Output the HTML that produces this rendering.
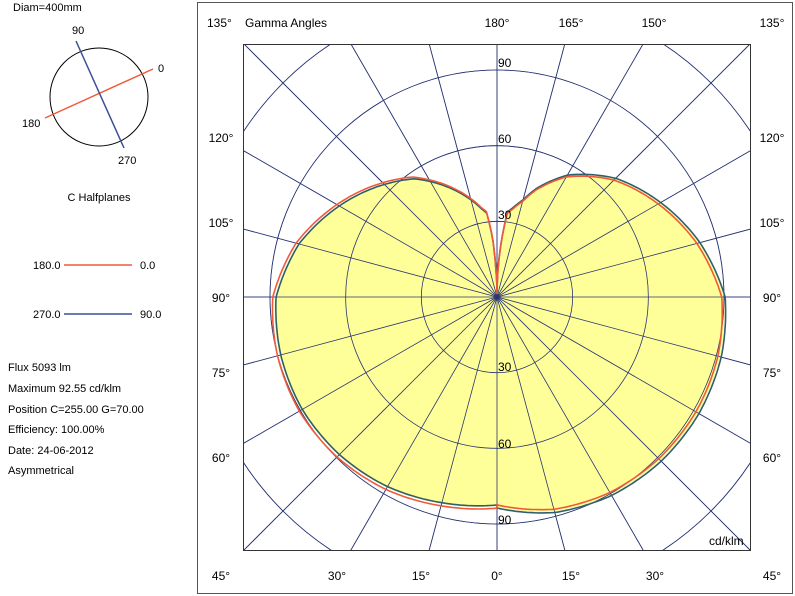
<!DOCTYPE html>
<html><head><meta charset="utf-8"><style>
html,body{margin:0;padding:0;background:#fff;width:795px;height:596px;overflow:hidden;font-family:"Liberation Sans",Arial,sans-serif}
svg{display:block}
svg text{font-family:"Liberation Sans",Arial,sans-serif;font-size:12px;fill:#000}
</style></head><body>
<svg id="s" width="795" height="596" xmlns="http://www.w3.org/2000/svg">
<defs><clipPath id="c"><rect x="243" y="44" width="507" height="506"/></clipPath></defs>
<rect x="197.5" y="2.5" width="595" height="591" fill="none" stroke="#555"/>
<g id="grid" clip-path="url(#c)" stroke="#3a4f98" stroke-width="0.8" fill="none"></g>
<path id="fill" fill="#ffff99" stroke="none"/>
<g id="grid2" clip-path="url(#c)" stroke="#2a3570" stroke-width="0.8" fill="none"></g>
<path id="blue" fill="none" stroke="#2f5f6a" stroke-width="1.6"/>
<path id="red" fill="none" stroke="#f05a3a" stroke-width="1.6"/>
<rect x="243.5" y="44.5" width="507" height="506" fill="none" stroke="#333"/>
<g font-size="12">
<text x="207" y="27">135°</text><text x="245" y="27">Gamma Angles</text>
<text x="497" y="27" text-anchor="middle">180°</text><text x="571" y="27" text-anchor="middle">165°</text><text x="654" y="27" text-anchor="middle">150°</text><text x="772" y="27" text-anchor="middle">135°</text>
<text x="221" y="142" text-anchor="middle">120°</text><text x="221" y="227" text-anchor="middle">105°</text><text x="221" y="302" text-anchor="middle">90°</text><text x="221" y="377" text-anchor="middle">75°</text><text x="221" y="462" text-anchor="middle">60°</text>
<text x="772" y="142" text-anchor="middle">120°</text><text x="772" y="227" text-anchor="middle">105°</text><text x="772" y="302" text-anchor="middle">90°</text><text x="772" y="377" text-anchor="middle">75°</text><text x="772" y="462" text-anchor="middle">60°</text>
<text x="221" y="580" text-anchor="middle">45°</text><text x="337" y="580" text-anchor="middle">30°</text><text x="421" y="580" text-anchor="middle">15°</text><text x="497" y="580" text-anchor="middle">0°</text><text x="571" y="580" text-anchor="middle">15°</text><text x="655" y="580" text-anchor="middle">30°</text><text x="772" y="580" text-anchor="middle">45°</text>
<text x="498" y="67">90</text><text x="498" y="143">60</text><text x="498" y="219">30</text>
<text x="498" y="371">30</text><text x="498" y="448">60</text><text x="498" y="524">90</text>
<text x="709" y="545">cd/klm</text>
</g>
<g>
<text x="13" y="11" style="font-size:11px">Diam=400mm</text>
<circle cx="99" cy="97" r="49" fill="none" stroke="#000" stroke-width="1"/>
<line x1="45" y1="118" x2="153" y2="69" stroke="#f05a3a" stroke-width="1.5"/>
<line x1="76" y1="41" x2="124" y2="148" stroke="#3a4f98" stroke-width="1.5"/>
<text x="72" y="34" style="font-size:11px">90</text><text x="158" y="72" style="font-size:11px">0</text>
<text x="22" y="127" style="font-size:11px">180</text><text x="118" y="164" style="font-size:11px">270</text>
<text x="99" y="201" text-anchor="middle" style="font-size:11px">C Halfplanes</text>
<text x="33" y="269" style="font-size:11px">180.0</text><line x1="64" y1="265" x2="132" y2="265" stroke="#f05a3a" stroke-width="1.5"/><text x="140" y="269" style="font-size:11px">0.0</text>
<text x="33" y="318" style="font-size:11px">270.0</text><line x1="64" y1="314" x2="132" y2="314" stroke="#3a4f98" stroke-width="1.5"/><text x="140" y="318" style="font-size:11px">90.0</text>
<text x="8" y="371" style="font-size:11px">Flux 5093  lm</text>
<text x="8" y="392" style="font-size:11px">Maximum 92.55  cd/klm</text>
<text x="8" y="413" style="font-size:11px">Position C=255.00 G=70.00</text>
<text x="8" y="433" style="font-size:11px">Efficiency: 100.00%</text>
<text x="8" y="454" style="font-size:11px">Date: 24-06-2012</text>
<text x="8" y="474" style="font-size:11px">Asymmetrical</text>
</g>
</svg>
<script>
var cx=497,cy=297,k=227/90,NS="http://www.w3.org/2000/svg";
function grid(id){var g=document.getElementById(id);
function el(t,a){var e=document.createElementNS(NS,t);for(var i in a)e.setAttribute(i,a[i]);g.appendChild(e);}
[30,60,90,120].forEach(function(v){el('circle',{cx:cx,cy:cy,r:v*k});});
for(var a=0;a<360;a+=15){var r=a*Math.PI/180;el('line',{x1:cx,y1:cy,x2:cx+500*Math.sin(r),y2:cy+500*Math.cos(r)});}}
grid('grid');
var R=[[0,210],[15,222],[30,228],[45,231],[60,232],[75,231],[90,227],[105,209],[120,188],[135,167],[145,149],[150,140],[160,115],[165,100],[170,90],[173,85],[176,50],[180,3]];
var L=[[0,209],[15,214],[30,220],[45,224],[60,226],[75,225],[90,222],[105,206],[120,183],[135,160],[145,145],[160,112],[170,90],[173,85],[176,55],[178,25],[180,3]];
function interp(T,gm){for(var i=0;i<T.length-1;i++){if(gm>=T[i][0]&&gm<=T[i+1][0]){var t=(gm-T[i][0])/(T[i+1][0]-T[i][0]);return T[i][1]+(T[i+1][1]-T[i][1])*t;}}return T[T.length-1][1];}
function pts(fr,fl){var p=[];for(var gm=180;gm>=0;gm-=1){var r=interp(R,gm)*fr,a=gm*Math.PI/180;p.push([cx+r*Math.sin(a),cy+r*Math.cos(a)]);}
for(var gm=0;gm<=180;gm+=1){var r=interp(L,gm)*fl,a=gm*Math.PI/180;p.push([cx-r*Math.sin(a),cy+r*Math.cos(a)]);}
return 'M'+p.map(function(q){return q[0].toFixed(1)+','+q[1].toFixed(1);}).join(' L')+'Z';}
document.getElementById('fill').setAttribute('d',pts(1,1));
document.getElementById('red').setAttribute('d',pts(0.99,1.01));
document.getElementById('blue').setAttribute('d',pts(1.005,0.995));
grid('grid2');
</script>
</body></html>
